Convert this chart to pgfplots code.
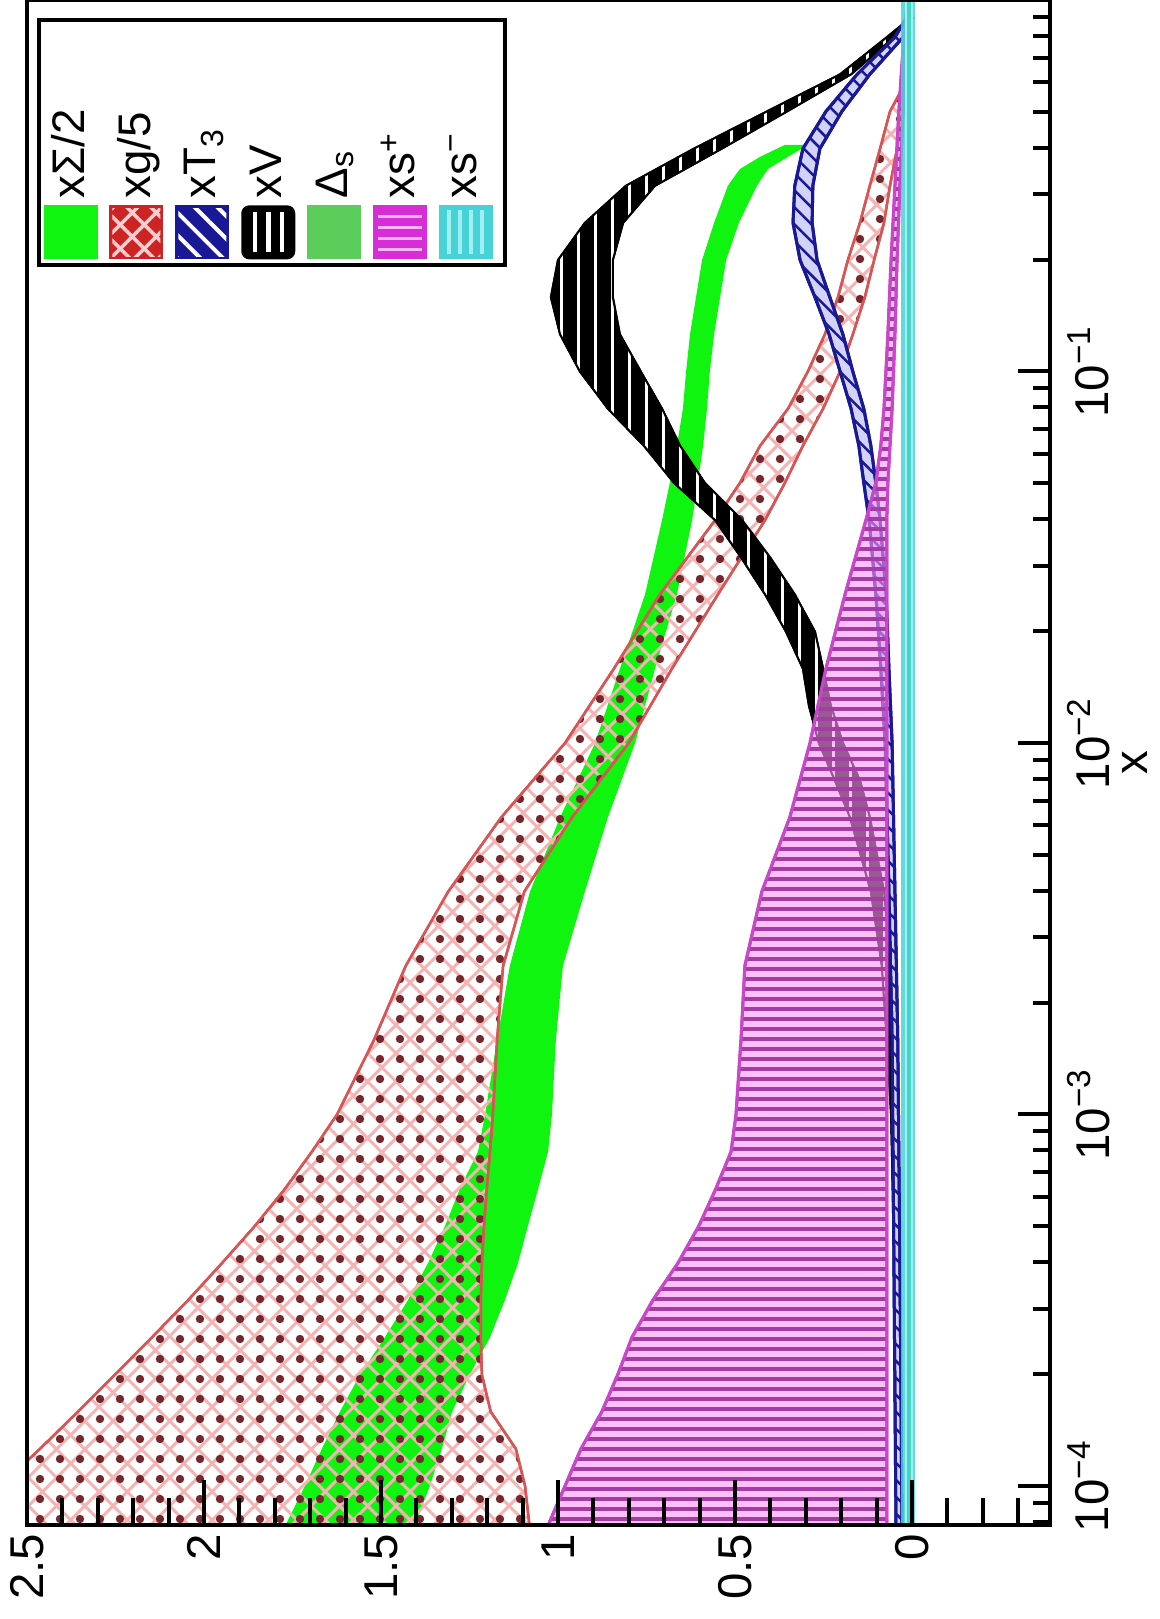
\documentclass[border=0pt]{standalone}
\usepackage{fontspec}
\setmainfont{Liberation Sans}
\usepackage{pgfplots}
\pgfplotsset{compat=1.18}
\usetikzlibrary{patterns.meta}
\definecolor{sgreen}{RGB}{15,245,15}
\definecolor{gred}{RGB}{205,35,35}
\definecolor{redline}{RGB}{215,85,85}
\definecolor{gpink}{RGB}{245,180,180}
\definecolor{gpinkl}{RGB}{255,205,205}
\definecolor{gdash}{RGB}{115,40,45}
\definecolor{tblue}{RGB}{25,25,150}
\definecolor{tbluel}{RGB}{210,210,250}
\definecolor{dsgreen}{RGB}{90,205,90}
\definecolor{magd}{RGB}{165,60,165}
\definecolor{magl}{RGB}{255,180,250}
\definecolor{magf}{RGB}{255,150,245}
\definecolor{magsw}{RGB}{215,45,215}
\definecolor{magedge}{RGB}{200,70,200}
\definecolor{cyand}{RGB}{70,210,215}
\definecolor{cyanl}{RGB}{160,240,240}
\begin{document}
\begin{tikzpicture}
\path[use as bounding box] (-2.7mm,-9.4mm) rectangle (113.2mm,152.5mm);
\begin{axis}[
  at={(0,0)}, anchor=south west,
  scale only axis, width=102.3mm, height=152.5mm,
  x dir=reverse,
  xmin=-0.39, xmax=2.5,
  ymode=log, ymin=7.85e-5, ymax=1,
  xtick={0,0.5,1,1.5,2,2.5},
  xticklabels={0,0.5,1,1.5,2,2.5},
  minor xtick={-0.3,-0.2,-0.1,0.1,0.2,0.3,0.4,0.6,0.7,0.8,0.9,1.1,1.2,1.3,1.4,1.6,1.7,1.8,1.9,2.1,2.2,2.3,2.4},
  ytick={1e-4,1e-3,1e-2,1e-1},
  yticklabels={10\textsuperscript{−4},10\textsuperscript{−3},10\textsuperscript{−2},10\textsuperscript{−1}},
  minor ytick={8e-5,9e-5,2e-4,3e-4,4e-4,5e-4,6e-4,7e-4,8e-4,9e-4,2e-3,3e-3,4e-3,5e-3,6e-3,7e-3,8e-3,9e-3,2e-2,3e-2,4e-2,5e-2,6e-2,7e-2,8e-2,9e-2,0.2,0.3,0.4,0.5,0.6,0.7,0.8,0.9},
  xtick pos=left, ytick pos=right,
  xticklabel pos=left, yticklabel pos=right,
  tick align=inside,
  major tick length=4.5mm, minor tick length=2.7mm,
  ytick style={/pgfplots/major tick length=3.2mm, /pgfplots/minor tick length=1.7mm},
  tick style={black, line width=0.4mm},
  axis line style={line width=0.45mm},
  axis on top,
  tick label style={font=\fontsize{13.5}{16}\selectfont},
  xticklabel style={rotate=90, anchor=east, inner xsep=0.8mm, inner ysep=0pt},
  yticklabel style={rotate=90, anchor=north, inner ysep=1.7mm, inner xsep=0pt},
  ylabel={x},
  ylabel style={at={(axis description cs:1.0704,0.5)}, anchor=north, inner sep=0pt, font=\fontsize{13.5}{16}\selectfont},
  legend columns=7,
  legend style={
    at={(axis description cs:0.0098,0.988)}, anchor=north west,
    draw=black, line width=0.4mm, fill=white,
    inner xsep=0.45mm, inner ysep=0.3mm,
    column sep=0.42mm,
    nodes={inner sep=0pt},
  },
]
% xSigma/2
\addplot[forget plot, draw=none, fill=sgreen] coordinates {
(1.777,7.586e-5) (1.715,1e-4) (1.667,1.259e-4) (1.616,1.585e-4) (1.559,1.995e-4) (1.489,2.512e-4) (1.424,3.162e-4) (1.367,3.981e-4) (1.319,5.012e-4) (1.277,6.310e-4) (1.226,7.943e-4) (1.206,1e-3) (1.172,1.585e-3) (1.136,2.512e-3) (1.079,3.981e-3) (0.994,6.310e-3) (0.895,1e-2) (0.825,1.585e-2) (0.754,2.512e-2) (0.706,3.981e-2) (0.684,5.012e-2) (0.664,6.310e-2) (0.647,7.943e-2) (0.638,0.1) (0.627,0.1259) (0.610,0.1585) (0.593,0.1995) (0.559,0.2512) (0.520,0.3162) (0.486,0.3508) (0.429,0.3784) (0.359,0.4074)
(0.294,0.4074) (0.350,0.3784) (0.407,0.3508) (0.438,0.3162) (0.489,0.2512) (0.525,0.1995) (0.542,0.1585) (0.559,0.1259) (0.571,0.1) (0.579,7.943e-2) (0.590,6.310e-2) (0.605,5.012e-2) (0.621,3.981e-2) (0.664,2.512e-2) (0.726,1.585e-2) (0.782,1e-2) (0.859,6.310e-3) (0.924,3.981e-3) (0.986,2.512e-3) (1.006,1.585e-3) (1.017,1e-3) (1.028,7.943e-4) (1.056,6.310e-4) (1.085,5.012e-4) (1.113,3.981e-4) (1.150,3.162e-4) (1.192,2.512e-4) (1.249,1.995e-4) (1.299,1.585e-4) (1.328,1.259e-4) (1.362,1e-4) (1.410,7.586e-5)
} -- cycle;
% xg/5
\addplot[forget plot, draw=redline, line width=0.25mm,
  pattern={Hatch[angle=45,distance=2mm,line width=0.3mm]}, pattern color=gpink,
  postaction={pattern={Dots[distance=2mm,radius=0.42mm]}, pattern color=gdash}] coordinates {
(2.633,7.586e-5) (2.576,1e-4) (2.463,1.259e-4) (2.356,1.585e-4) (2.251,1.995e-4) (2.147,2.512e-4) (2.045,3.162e-4) (1.949,3.981e-4) (1.856,5.012e-4) (1.771,6.310e-4) (1.695,7.943e-4) (1.624,1e-3) (1.520,1.585e-3) (1.430,2.512e-3) (1.310,3.981e-3) (1.160,6.310e-3) (0.980,1e-2) (0.842,1.585e-2) (0.712,2.512e-2) (0.556,3.981e-2) (0.486,5.012e-2) (0.429,6.310e-2) (0.350,7.943e-2) (0.294,0.1) (0.246,0.1259) (0.209,0.1585) (0.181,0.1995) (0.147,0.2512) (0.119,0.3162) (0.090,0.3981) (0.062,0.5012) (0.034,0.5623) (0.011,0.6026)
(0.006,0.6026) (0.011,0.5623) (0.025,0.5012) (0.042,0.3981) (0.062,0.3162) (0.079,0.2512) (0.107,0.1995) (0.133,0.1585) (0.167,0.1259) (0.203,0.1) (0.251,7.943e-2) (0.308,6.310e-2) (0.359,5.012e-2) (0.415,3.981e-2) (0.548,2.512e-2) (0.678,1.585e-2) (0.800,1e-2) (0.960,6.310e-3) (1.095,3.981e-3) (1.155,2.512e-3) (1.172,1.585e-3) (1.184,1e-3) (1.192,7.943e-4) (1.201,6.310e-4) (1.209,5.012e-4) (1.215,3.981e-4) (1.218,3.162e-4) (1.218,2.512e-4) (1.215,1.995e-4) (1.190,1.585e-4) (1.119,1.259e-4) (1.093,1e-4) (1.079,7.586e-5)
} -- cycle;
% xV
\addplot[forget plot, draw=black, line width=0.2mm, fill=black,
  postaction={pattern={Lines[angle=90,distance=1.7mm,line width=0.3mm]}, pattern color=white}] coordinates {
(0.042,7.586e-5) (0.045,2.512e-4) (0.059,1e-3) (0.071,1.585e-3) (0.085,2.512e-3) (0.116,3.981e-3) (0.175,6.310e-3) (0.218,7.943e-3) (0.263,1e-2) (0.291,1.259e-2) (0.308,1.585e-2) (0.356,1.995e-2) (0.415,2.512e-2) (0.483,3.162e-2) (0.556,3.981e-2) (0.672,5.012e-2) (0.757,6.310e-2) (0.859,7.943e-2) (0.938,0.1) (0.994,0.1259) (1.020,0.1585) (1.000,0.1995) (0.924,0.2512) (0.808,0.3162) (0.616,0.3981) (0.410,0.5012) (0.203,0.6310) (0.071,0.7943) (0.006,0.8913)
(0.0,0.8913) (0.051,0.7943) (0.172,0.6310) (0.353,0.5012) (0.537,0.3981) (0.726,0.3162) (0.816,0.2512) (0.845,0.1995) (0.845,0.1585) (0.825,0.1259) (0.766,0.1) (0.706,7.943e-2) (0.655,6.310e-2) (0.585,5.012e-2) (0.480,3.981e-2) (0.401,3.162e-2) (0.331,2.512e-2) (0.274,1.995e-2) (0.251,1.585e-2) (0.229,1.259e-2) (0.195,1e-2) (0.147,7.943e-3) (0.119,6.310e-3) (0.079,3.981e-3) (0.059,2.512e-3) (0.048,1.585e-3) (0.042,1e-3) (0.034,2.512e-4) (0.031,7.586e-5)
} -- cycle;
% xT3
\addplot[forget plot, draw=tblue, line width=0.3mm, fill=tbluel,
  postaction={pattern={Lines[angle=-45,distance=1.2mm,line width=0.25mm]}, pattern color=tblue}] coordinates {
(0.045,7.586e-5) (0.051,3.981e-4) (0.056,1.585e-3) (0.065,3.981e-3) (0.076,1e-2) (0.088,1.585e-2) (0.102,2.512e-2) (0.121,3.981e-2) (0.136,5.012e-2) (0.150,6.310e-2) (0.172,7.943e-2) (0.203,0.1) (0.234,0.1259) (0.274,0.1585) (0.316,0.1995) (0.336,0.2512) (0.331,0.3162) (0.308,0.3981) (0.243,0.5012) (0.155,0.6310) (0.048,0.7943) (0.017,0.8913)
(0.006,0.8913) (0.025,0.7943) (0.119,0.6310) (0.198,0.5012) (0.260,0.3981) (0.280,0.3162) (0.282,0.2512) (0.268,0.1995) (0.232,0.1585) (0.195,0.1259) (0.167,0.1) (0.136,7.943e-2) (0.116,6.310e-2) (0.102,5.012e-2) (0.090,3.981e-2) (0.073,2.512e-2) (0.065,1.585e-2) (0.056,1e-2) (0.048,3.981e-3) (0.040,1.585e-3) (0.034,3.981e-4) (0.028,7.586e-5)
} -- cycle;
% xs+
\addplot[forget plot, draw=magedge, line width=0.3mm, fill=magf, fill opacity=0.6,
  postaction={pattern={Lines[angle=0,distance=1mm,line width=0.45mm]}, pattern color=magd, fill opacity=1}] coordinates {
(1.034,7.586e-5) (0.980,1e-4) (0.935,1.259e-4) (0.876,1.585e-4) (0.831,1.995e-4) (0.791,2.512e-4) (0.732,3.162e-4) (0.661,3.981e-4) (0.602,5.012e-4) (0.554,6.310e-4) (0.511,7.943e-4) (0.497,1e-3) (0.483,1.585e-3) (0.472,2.512e-3) (0.424,3.981e-3) (0.345,6.310e-3) (0.288,1e-2) (0.243,1.585e-2) (0.189,2.512e-2) (0.130,3.981e-2) (0.102,5.012e-2) (0.088,6.310e-2) (0.079,7.943e-2) (0.068,0.1259) (0.059,0.1995) (0.048,0.3162) (0.037,0.5012) (0.023,0.7943) (0.017,0.8913) (0.014,1)
(0.010,1) (0.011,0.8913) (0.017,0.7943) (0.025,0.5012) (0.034,0.3162) (0.042,0.1995) (0.048,0.1259) (0.056,7.943e-2) (0.062,6.310e-2) (0.068,5.012e-2) (0.071,3.981e-2) (0.071,7.586e-5)
} -- cycle;
% Delta_s
\addplot[forget plot, draw=none, fill=dsgreen] coordinates {
(0.016,7.586e-5) (0.016,1) (0.0,1) (0.0,7.586e-5)
} -- cycle;
% xs-
\addplot[forget plot, draw=none, fill=cyand, fill opacity=0.85,
  postaction={pattern={Lines[angle=90,distance=0.6mm,line width=0.2mm]}, pattern color=cyanl}] coordinates {
(0.030,7.586e-5) (0.030,1) (-0.008,1) (-0.008,7.586e-5)
} -- cycle;

\addlegendimage{legend image code/.code={
  \path[draw=none] (0mm,0mm) rectangle (5.4mm,23.6mm);
  \fill[sgreen, draw=none] (0mm,0mm) rectangle (5.4mm,5.4mm);
  \node[rotate=90, anchor=west, inner sep=0pt, draw=none, font=\fontsize{13}{15}\selectfont] at (2.7mm,5.9mm) {xΣ/2};}}
\addlegendentry{}
\addlegendimage{legend image code/.code={
  \path[draw=none] (0mm,0mm) rectangle (5.4mm,23.6mm);
  \fill[gred, draw=none] (0mm,0mm) rectangle (5.4mm,5.4mm);
  \fill[draw=none, pattern={Hatch[angle=45,distance=1.7mm,line width=0.35mm]}, pattern color=gpinkl] (0.3mm,0.3mm) rectangle (5.1mm,5.1mm);
  \node[rotate=90, anchor=west, inner sep=0pt, draw=none, font=\fontsize{13}{15}\selectfont] at (2.7mm,5.9mm) {xg/5};}}
\addlegendentry{}
\addlegendimage{legend image code/.code={
  \path[draw=none] (0mm,0mm) rectangle (5.4mm,23.6mm);
  \fill[tblue, draw=none] (0mm,0mm) rectangle (5.4mm,5.4mm);
  \fill[draw=none, pattern={Lines[angle=-45,distance=1.6mm,line width=0.4mm]}, pattern color=white] (0.3mm,0.3mm) rectangle (5.1mm,5.1mm);
  \node[rotate=90, anchor=west, inner sep=0pt, draw=none, font=\fontsize{13}{15}\selectfont] at (2.7mm,5.9mm) {xT\textsubscript{3}};}}
\addlegendentry{}
\addlegendimage{legend image code/.code={
  \path[draw=none] (0mm,0mm) rectangle (5.4mm,23.6mm);
  \fill[black, draw=none, rounded corners=0.8mm] (0mm,0mm) rectangle (5.4mm,5.4mm);
  \draw[white, line width=0.45mm] (1.35mm,0.7mm) -- (1.35mm,4.7mm) (2.7mm,0.7mm) -- (2.7mm,4.7mm) (4.05mm,0.7mm) -- (4.05mm,4.7mm);
  \node[rotate=90, anchor=west, inner sep=0pt, draw=none, font=\fontsize{13}{15}\selectfont] at (2.7mm,5.9mm) {xV};}}
\addlegendentry{}
\addlegendimage{legend image code/.code={
  \path[draw=none] (0mm,0mm) rectangle (5.4mm,23.6mm);
  \fill[dsgreen, draw=none] (0mm,0mm) rectangle (5.4mm,5.4mm);
  \node[rotate=90, anchor=west, inner sep=0pt, draw=none, font=\fontsize{13}{15}\selectfont] at (2.7mm,5.9mm) {Δ\textsubscript{s}};}}
\addlegendentry{}
\addlegendimage{legend image code/.code={
  \path[draw=none] (0mm,0mm) rectangle (5.4mm,23.6mm);
  \fill[magsw, draw=none] (0mm,0mm) rectangle (5.4mm,5.4mm);
  \draw[magl, line width=0.35mm] (0.5mm,1.0mm) -- (4.9mm,1.0mm) (0.5mm,2.1mm) -- (4.9mm,2.1mm) (0.5mm,3.2mm) -- (4.9mm,3.2mm) (0.5mm,4.3mm) -- (4.9mm,4.3mm);
  \node[rotate=90, anchor=west, inner sep=0pt, draw=none, font=\fontsize{13}{15}\selectfont] at (2.7mm,5.9mm) {xs\textsuperscript{+}};}}
\addlegendentry{}
\addlegendimage{legend image code/.code={
  \path[draw=none] (0mm,0mm) rectangle (5.4mm,23.6mm);
  \fill[cyand, draw=none] (0mm,0mm) rectangle (5.4mm,5.4mm);
  \draw[cyanl, line width=0.35mm] (1.0mm,0.5mm) -- (1.0mm,4.9mm) (2.1mm,0.5mm) -- (2.1mm,4.9mm) (3.2mm,0.5mm) -- (3.2mm,4.9mm) (4.3mm,0.5mm) -- (4.3mm,4.9mm);
  \node[rotate=90, anchor=west, inner sep=0pt, draw=none, font=\fontsize{13}{15}\selectfont] at (2.7mm,5.9mm) {xs\textsuperscript{−}};}}
\addlegendentry{}
\end{axis}
\end{tikzpicture}
\end{document}
